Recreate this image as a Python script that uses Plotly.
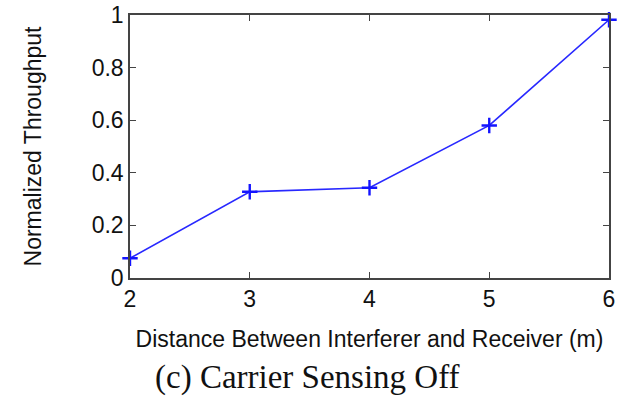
import plotly.graph_objects as go

distance = [2, 3, 4, 5, 6]
throughput = [0.075, 0.328, 0.343, 0.58, 0.982]
x_ticks = [2, 3, 4, 5, 6]
y_ticks = [0, 0.2, 0.4, 0.6, 0.8, 1]
y_tick_labels = ["0", "0.2", "0.4", "0.6", "0.8", "1"]

fig = go.Figure()
fig.add_trace(go.Scatter(
    x=distance, y=throughput, mode="lines+markers",
    line=dict(color="rgb(40,40,255)", width=1.6),
    marker=dict(symbol="cross-thin", size=11, line=dict(color="rgb(20,20,255)", width=2.4)),
    cliponaxis=False, showlegend=False,
))

axis_common = dict(showline=True, linecolor="#444", linewidth=1.5, mirror="ticks",
                   ticks="inside", ticklen=6, tickcolor="#444", tickwidth=1,
                   showgrid=False, zeroline=False, automargin=False,
                   tickfont=dict(family="Liberation Sans, Arial", size=23, color="#111"))

fig.update_xaxes(range=[2, 6], tickvals=x_ticks, **axis_common,
                 title=dict(text="Distance Between Interferer and Receiver (m)",
                            font=dict(family="Liberation Sans, Arial", size=23, color="#111"),
                            standoff=20))
fig.update_yaxes(range=[0, 1], tickvals=y_ticks, ticktext=y_tick_labels, **axis_common,
                 title=dict(text="Normalized Throughput",
                            font=dict(family="Liberation Sans, Arial", size=23, color="#111"),
                            standoff=44))

fig.add_annotation(text="(c) Carrier Sensing Off", xref="paper", yref="paper",
                   x=0.37, y=-0.38, xanchor="center", yanchor="middle", showarrow=False,
                   font=dict(family="Liberation Serif, Times New Roman", size=33, color="#111"))

fig.update_layout(width=625, height=401, margin=dict(l=130, r=16, t=15, b=123),
                  plot_bgcolor="white", paper_bgcolor="white")

fig.write_html("out.html")
